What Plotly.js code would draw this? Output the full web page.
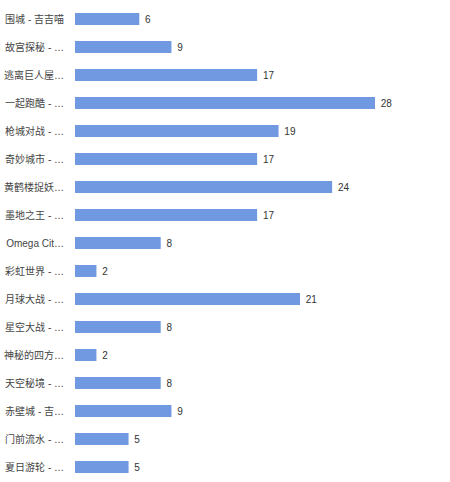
<!DOCTYPE html>
<html><head><meta charset="utf-8">
<script src="https://cdn.plot.ly/plotly-3.0.1.min.js"></script>
<style>html,body{margin:0;padding:0;background:#fff;}#chart{width:450px;height:482px;}</style>
</head><body><div id="chart"></div>
<script>
const categories = ["围城 - 吉吉喵","故宫探秘 - …","逃离巨人屋…","一起跑酷 - …","枪城对战 - …","奇妙城市 - …","黄鹤楼捉妖…","墨地之王 - …","Omega Cit…","彩虹世界 - …","月球大战 - …","星空大战 - …","神秘的四方…","天空秘境 - …","赤壁城 - 吉…","门前流水 - …","夏日游轮 - …"];
const values = [6,9,17,28,19,17,24,17,8,2,21,8,2,8,9,5,5];

Plotly.newPlot('chart', [{
  type: 'bar', orientation: 'h',
  y: categories, x: values,
  texttemplate: ' %{x}', textposition: 'outside', cliponaxis: false,
  textfont: {family: 'Liberation Sans, Arial, Noto Sans CJK SC, sans-serif', size: 10, color: '#333'},
  marker: {color: '#7099E1'},
  hoverinfo: 'none'
}], {
  width: 450, height: 482,
  margin: {l: 75, r: 75, t: 5, b: 1},
  bargap: 0.57,
  showlegend: false,
  paper_bgcolor: '#fff', plot_bgcolor: '#fff',
  xaxis: {range: [0, 28], visible: false, fixedrange: true},
  yaxis: {autorange: 'reversed', showgrid: false, zeroline: false, showline: false,
    ticks: 'outside', ticklen: 8, tickcolor: 'rgba(0,0,0,0)',
    tickfont: {family: 'Liberation Sans, Arial, Noto Sans CJK SC, sans-serif', size: 10, color: '#444'}}
}, {staticPlot: true});
</script></body></html>
